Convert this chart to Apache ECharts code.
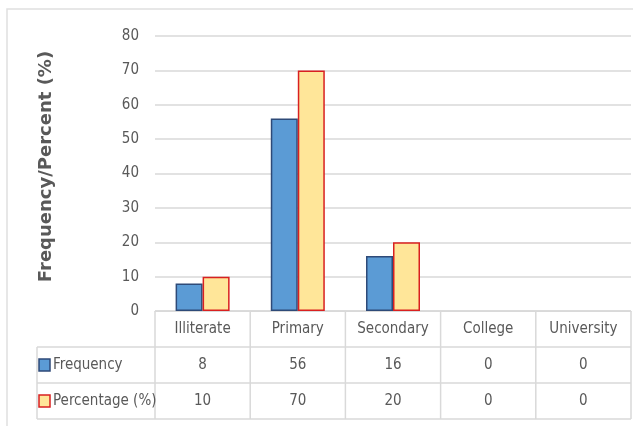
<!DOCTYPE html>
<html>
<head>
<meta charset="utf-8">
<script src="https://cdn.jsdelivr.net/npm/echarts@6/dist/echarts.min.js"></script>
<style>
  html, body { margin: 0; padding: 0; background: #fff; }
  #main { width: 633px; height: 426px; }
</style>
</head>
<body>
<div id="main"></div>
<script>
const categories = ['Illiterate', 'Primary', 'Secondary', 'College', 'University'];
const frequency = [8, 56, 16, 0, 0];
const percentage = [10, 70, 20, 0, 0];
const seriesNames = ['Frequency', 'Percentage (%)'];
const yTicks = [0, 10, 20, 30, 40, 50, 60, 70, 80];

const font = "'Liberation Sans Narrow', 'DejaVu Sans Condensed', 'Liberation Sans', sans-serif";
const textColor = '#595959';
const lineColor = '#d9d9d9';
const freqStyle = { color: '#5b9bd5', borderColor: '#2e4a78', borderWidth: 1.5 };
const pctStyle = { color: '#ffe699', borderColor: '#d92020', borderWidth: 1.5 };

// zero bars get no outline, like the original
function barData(vals) {
    return vals.map(v => v === 0 ? { value: 0, itemStyle: { borderWidth: 0 } } : v);
}

const myChart = echarts.init(document.getElementById('main'));

const option = {
    animation: false,
    grid: { left: 155, right: 2, top: 36, bottom: 115 },
    xAxis: {
        type: 'category',
        data: categories,
        axisLine: { show: true, lineStyle: { color: lineColor } },
        axisTick: { show: false },
        axisLabel: { show: false }
    },
    yAxis: {
        type: 'value',
        min: yTicks[0],
        max: yTicks[yTicks.length - 1],
        interval: 10,
        name: 'Frequency/Percent (%)',
        nameLocation: 'middle',
        nameGap: 100,
        nameTextStyle: { color: textColor, fontSize: 18, fontWeight: 'bold', fontFamily: "'DejaVu Sans', sans-serif", padding: [0, 0, 0, 14] },
        axisLine: { show: false },
        axisTick: { show: false },
        axisLabel: { color: textColor, fontSize: 15, fontFamily: font, margin: 16 },
        splitLine: { lineStyle: { color: lineColor, width: 1.5 } }
    },
    series: [
        {
            name: seriesNames[0],
            type: 'bar',
            data: barData(frequency),
            barWidth: 27,
            barGap: '0%',
            itemStyle: freqStyle
        },
        {
            name: seriesNames[1],
            type: 'bar',
            data: barData(percentage),
            barWidth: 27,
            itemStyle: pctStyle
        }
    ]
};

myChart.setOption(option);

// data table under the plot
const plotLeft = 155, plotRight = 631, top0 = 311, rowH = 36, tableLeft = 37;
const rowsY = [top0, top0 + rowH, top0 + 2 * rowH, top0 + 3 * rowH];
const colW = (plotRight - plotLeft) / categories.length;
const els = [];
const line = (x1, y1, x2, y2) => els.push({
    type: 'line', shape: { x1: x1, y1: y1, x2: x2, y2: y2 },
    style: { stroke: lineColor, lineWidth: 1.5 }, silent: true
});
line(plotLeft, rowsY[0], plotRight, rowsY[0]);
for (let r = 1; r < 4; r++) line(tableLeft, rowsY[r], plotRight, rowsY[r]);
line(tableLeft, rowsY[1], tableLeft, rowsY[3]);
for (let c = 0; c <= categories.length; c++) {
    line(plotLeft + c * colW, rowsY[0], plotLeft + c * colW, rowsY[3]);
}
const cellText = (x, y, t, align) => els.push({
    type: 'text', x: x, y: y,
    style: { text: String(t), fill: textColor, font: '15px ' + font, align: align || 'center', verticalAlign: 'middle' },
    silent: true
});
const rows = [frequency, percentage];
categories.forEach((cat, i) => {
    const cx = myChart.convertToPixel({ xAxisIndex: 0 }, cat);
    cellText(cx, rowsY[0] + rowH / 2, cat);
    rows.forEach((vals, r) => cellText(cx, rowsY[r + 1] + rowH / 2, vals[i]));
});
const keyStyles = [freqStyle, pctStyle];
seriesNames.forEach((name, r) => {
    const cy = rowsY[r + 1] + rowH / 2;
    els.push({
        type: 'rect', shape: { x: 39, y: cy - 6, width: 11, height: 12 },
        style: { fill: keyStyles[r].color, stroke: keyStyles[r].borderColor, lineWidth: 1.5 }, silent: true
    });
    cellText(53, cy, name, 'left');
});
// outer chart frame
els.push({
    type: 'rect', shape: { x: 7, y: 9, width: 640, height: 440 },
    style: { fill: null, stroke: '#e0e0e0', lineWidth: 1.5 }, silent: true
});
myChart.setOption({ graphic: els });
</script>
</body>
</html>
